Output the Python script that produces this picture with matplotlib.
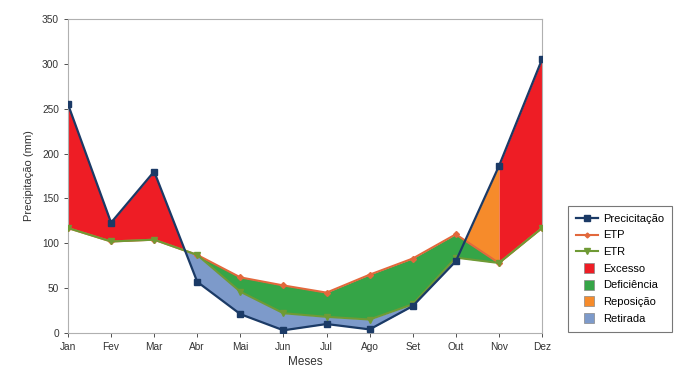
import matplotlib
matplotlib.use("Agg")
import matplotlib.pyplot as plt
import numpy as np
from matplotlib.patches import Patch, Rectangle
from matplotlib.lines import Line2D
from matplotlib.legend_handler import HandlerPatch

meses = ["Jan", "Fev", "Mar", "Abr", "Mai", "Jun", "Jul", "Ago", "Set", "Out", "Nov", "Dez"]
precip = [255, 123, 180, 57, 21, 3, 10, 4, 30, 80, 186, 305]
etp = [117, 102, 104, 87, 62, 53, 45, 65, 83, 110, 78, 117]
etr = [117, 102, 104, 87, 46, 22, 18, 15, 32, 84, 78, 117]

plt.rcParams["font.family"] = ["Liberation Sans", "DejaVu Sans"]

C_PREC = "#1b3a66"
C_ETP = "#e2683c"
C_ETR = "#6f9a35"
C_EXC = "#ee1d25"
C_DEF = "#35a547"
C_REP = "#f68b2b"
C_RET = "#7d9aca"

x = np.arange(len(meses))
p = np.array(precip, float)
e = np.array(etp, float)
r = np.array(etr, float)

fig = plt.figure(figsize=(6.77, 3.69), dpi=100)
ax = fig.add_axes([0.1004, 0.0976, 0.7002, 0.8509])

# excess: Jan..Abr and Nov..Dez
s1 = slice(0, 4)
ax.fill_between(x[s1], p[s1], e[s1], where=p[s1] >= e[s1], interpolate=True, color=C_EXC, lw=0)
s2 = slice(10, 12)
ax.fill_between(x[s2], p[s2], e[s2], color=C_EXC, lw=0)
# deficiency
ax.fill_between(x, e, r, where=e >= r, interpolate=True, color=C_DEF, lw=0)
# withdrawal
ax.fill_between(x, r, p, where=r >= p, interpolate=True, color=C_RET, lw=0)
# replenishment: Out..Nov
s3 = slice(9, 11)
ax.fill_between(x[s3], p[s3], e[s3], where=p[s3] >= e[s3], interpolate=True, color=C_REP, lw=0)

ax.plot(x, e, color=C_ETP, lw=1.5, marker="D", ms=3, mfc=C_ETP, mec=C_ETP, zorder=3)
ax.plot(x, r, color=C_ETR, lw=1.5, marker="v", ms=4.5, mfc=C_ETR, mec=C_ETR, zorder=4)
ax.plot(x, p, color=C_PREC, lw=1.6, marker="s", ms=5, mfc=C_PREC, mec=C_PREC, zorder=5)

ax.set_xlim(0, 11)
ax.set_ylim(0, 350)
ax.set_xticks(x)
ax.set_xticklabels(meses)
ax.set_yticks(range(0, 351, 50))
ax.tick_params(labelsize=7.3, colors="#333333", length=3, width=0.6)
for sp in ax.spines.values():
    sp.set_color("#b0b0b0")
    sp.set_linewidth(0.8)
ax.set_xlabel("Meses", fontsize=8.5, color="#333333", labelpad=3)
ax.set_ylabel("Precipitação (mm)", fontsize=8, color="#333333", labelpad=6)


def square(legend, orig_handle, xdescent, ydescent, width, height, fontsize):
    s = height * 1.3
    return Rectangle((xdescent + width * 0.35, ydescent + (height - s) / 2), s, s)


handles = [
    Line2D([], [], color=C_PREC, lw=1.6, marker="s", ms=4),
    Line2D([], [], color=C_ETP, lw=1.5, marker="D", ms=2.5),
    Line2D([], [], color=C_ETR, lw=1.5, marker="v", ms=4),
    Patch(facecolor=C_EXC, edgecolor="#888888", lw=0.5),
    Patch(facecolor=C_DEF, edgecolor="#888888", lw=0.5),
    Patch(facecolor=C_REP, edgecolor="#888888", lw=0.5),
    Patch(facecolor=C_RET, edgecolor="#888888", lw=0.5),
]
labels = ["Precicitação", "ETP", "ETR", "Excesso", "Deficiência", "Reposição", "Retirada"]
leg = fig.legend(handles, labels, loc="upper left", bbox_to_anchor=(568 / 677, 1 - 206 / 369),
                 fontsize=8, frameon=True, fancybox=False, edgecolor="#555555",
                 handlelength=2.0, handletextpad=0.5, labelspacing=0.6, borderpad=0.7,
                 borderaxespad=0,
                 handler_map={Patch: HandlerPatch(patch_func=square)})
leg.get_frame().set_linewidth(0.8)

fig.savefig("out.png", dpi=100)
